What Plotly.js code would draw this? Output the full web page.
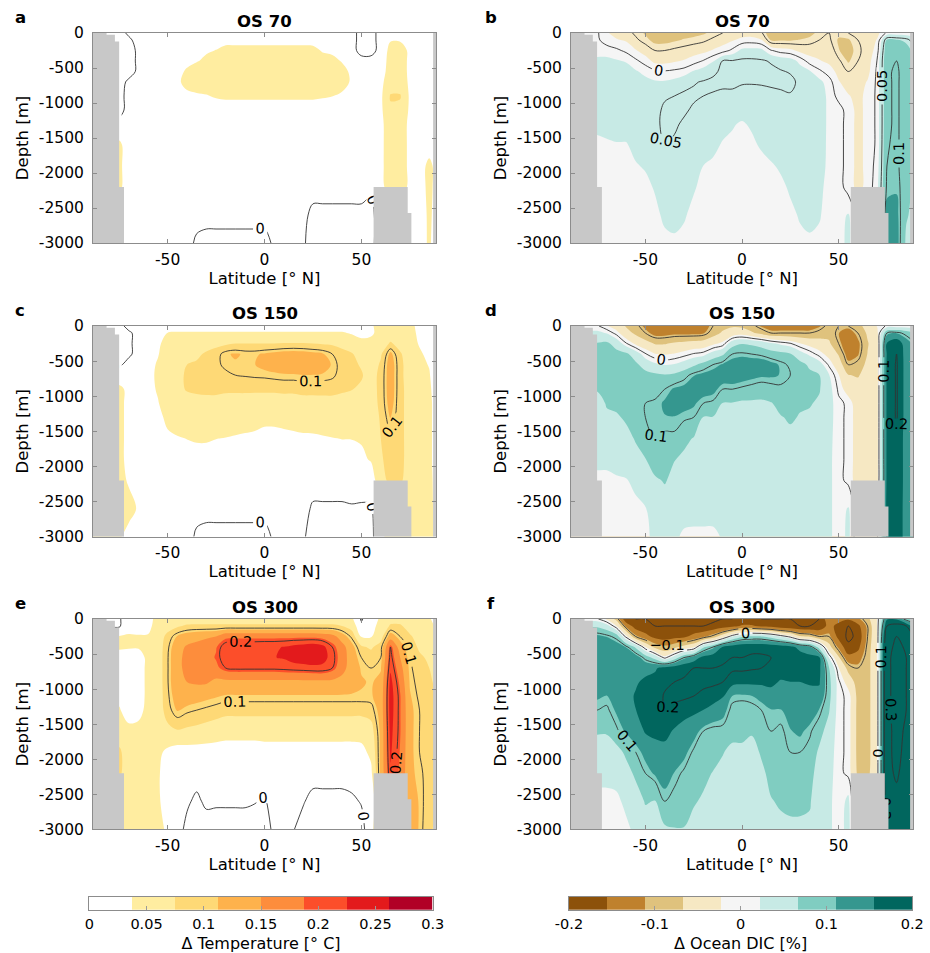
<!DOCTYPE html>
<html><head><meta charset="utf-8">
<script src="https://cdn.plot.ly/plotly-3.0.1.min.js"></script>
<style>html,body{margin:0;padding:0;background:#fff}</style>
</head><body>
<div id="chart" style="width:930px;height:953px"></div>
<script>
// ---------------- data ----------------
const LAT = [-88.5,-80,-75,-70,-65,-60,-55,-50,-45,-40,-35,-30,-25,-20,-15,-10,-5,0,5,10,15,20,25,30,35,40,45,50,55,60,65,70,75,80,85,88.5];
const DEPTH = [0,-100,-250,-400,-550,-700,-900,-1100,-1300,-1600,-1900,-2200,-2600,-3000];

// each inner array = one latitude column, values listed from surface to 3000 m
const tempOS70 = [
[-.01,-.01,-.01,-.01,-.01,-.01,-.01,-.01,.01,.03,.03,.03,.02,.015],
[-.01,-.01,-.01,-.01,-.01,-.01,-.01,-.01,.01,.03,.03,.03,.02,.015],
[-.01,-.01,-.01,-.01,-.01,-.01,-.01,-.01,.01,.045,.045,.045,.02,.015],
[.005,-.005,-.01,-.01,-.01,.005,.01,.01,.02,.02,.02,.02,.02,.015],
[.02,.01,.005,.005,.005,.015,.02,.02,.02,.02,.02,.02,.02,.015],
[.02,.02,.02,.02,.02,.02,.02,.02,.02,.02,.02,.02,.02,.015],
[.02,.025,.025,.025,.025,.025,.025,.02,.02,.02,.02,.02,.02,.015],
[.02,.025,.028,.028,.03,.03,.028,.022,.02,.02,.02,.02,.02,.015],
[.02,.025,.03,.03,.032,.033,.03,.022,.02,.02,.02,.02,.02,.015],
[.02,.025,.03,.033,.04,.045,.032,.024,.02,.02,.02,.02,.015,.01],
[.02,.025,.032,.036,.05,.05,.034,.025,.02,.02,.02,.02,.01,-.005],
[.02,.028,.035,.042,.05,.05,.036,.025,.02,.02,.02,.02,.01,-.01],
[.02,.03,.038,.048,.05,.05,.04,.025,.02,.02,.02,.02,.01,-.01],
[.02,.03,.045,.048,.05,.05,.042,.025,.02,.02,.02,.02,.01,-.01],
[.02,.03,.045,.048,.05,.05,.042,.025,.02,.02,.02,.02,.01,-.01],
[.02,.03,.045,.048,.05,.05,.042,.025,.02,.02,.02,.02,.01,-.01],
[.02,.03,.045,.048,.05,.05,.042,.025,.02,.02,.02,.02,.01,-.01],
[.02,.03,.045,.048,.05,.05,.042,.025,.02,.02,.02,.02,.01,-.01],
[.02,.03,.045,.048,.05,.05,.042,.025,.02,.02,.02,.02,.01,.005],
[.02,.03,.045,.048,.05,.05,.042,.025,.02,.02,.02,.02,.01,.01],
[.02,.03,.045,.048,.05,.05,.042,.025,.02,.02,.02,.02,.01,.008],
[.02,.03,.045,.048,.05,.05,.042,.025,.02,.02,.02,.02,.01,.003],
[.02,.028,.045,.048,.05,.05,.042,.025,.02,.02,.02,.015,-.01,-.01],
[.02,.025,.035,.048,.05,.05,.04,.025,.02,.02,.02,.015,-.01,-.01],
[.02,.025,.03,.048,.05,.05,.038,.025,.02,.02,.02,.015,-.01,-.01],
[.02,.025,.03,.035,.05,.048,.033,.025,.02,.02,.02,.015,-.01,-.01],
[.01,.01,.01,.025,.03,.034,.028,.022,.02,.02,.02,.015,-.01,-.01],
[-.01,-.01,-.01,.01,.02,.02,.02,.02,.02,.02,.02,.015,-.01,-.01],
[-.01,-.01,-.01,.01,.02,.02,.02,.02,.02,.02,.02,.005,-.01,-.01],
[.01,.01,.01,.02,.025,.03,.03,.03,.03,.032,.032,.03,.02,.02],
[.02,.035,.05,.05,.05,.055,.078,.07,.055,.05,.05,.05,.02,.02],
[.02,.035,.05,.05,.05,.055,.078,.065,.05,.05,.05,.05,.02,.02],
[.02,.02,.032,.032,.032,.032,.032,.032,.032,.032,.032,.032,.02,.02],
[.02,.02,.02,.02,.02,.02,.02,.02,.02,.02,.025,.025,.025,.03],
[.02,.02,.02,.02,.02,.02,.02,.02,.02,.025,.045,.045,.042,.04],
[.02,.02,.02,.02,.02,.02,.02,.02,.02,.02,.03,.03,.03,.03]
];

const tempOS150 = [
[-.01,-.01,-.01,-.01,-.005,.02,.045,.045,.045,.045,.045,.045,.045,.04],
[-.01,-.01,-.01,-.01,-.005,.02,.045,.045,.045,.045,.045,.045,.045,.04],
[-.01,-.01,-.01,-.01,-.005,.02,.045,.045,.045,.045,.045,.045,.045,.04],
[.01,-.005,-.005,-.005,.01,.02,.03,.03,.03,.03,.03,.035,.045,.03],
[.02,.01,.01,.01,.02,.025,.025,.025,.025,.025,.025,.025,.035,.02],
[.02,.025,.025,.03,.03,.03,.03,.03,.028,.025,.02,.02,.02,.02],
[.02,.03,.034,.036,.04,.042,.04,.036,.032,.028,.02,.02,.02,.02],
[.025,.038,.045,.05,.055,.055,.055,.05,.042,.034,.025,.02,.02,.02],
[.025,.04,.05,.06,.065,.065,.065,.055,.048,.036,.025,.02,.02,.02],
[.025,.04,.055,.065,.075,.08,.078,.06,.05,.038,.028,.02,.015,.012],
[.025,.04,.055,.068,.08,.085,.08,.065,.05,.04,.028,.02,.01,-.005],
[.025,.04,.06,.08,.085,.09,.082,.065,.05,.04,.028,.02,.01,-.01],
[.025,.04,.065,.09,.095,.09,.082,.065,.05,.038,.025,.02,.01,-.01],
[.025,.04,.07,.11,.105,.095,.08,.063,.048,.037,.025,.02,.01,-.01],
[.025,.04,.075,.115,.11,.1,.08,.062,.046,.036,.025,.02,.01,-.01],
[.025,.04,.075,.11,.11,.102,.08,.062,.045,.035,.025,.02,.01,-.01],
[.025,.04,.075,.11,.112,.104,.08,.06,.044,.034,.024,.02,.01,-.01],
[.025,.04,.075,.115,.12,.105,.08,.06,.042,.032,.024,.02,.01,-.01],
[.025,.04,.075,.12,.125,.108,.08,.06,.042,.032,.024,.02,.012,.005],
[.025,.04,.077,.125,.13,.11,.082,.06,.043,.033,.024,.02,.015,.01],
[.025,.04,.077,.128,.135,.11,.082,.06,.044,.034,.024,.02,.015,.01],
[.025,.04,.077,.125,.135,.112,.085,.062,.045,.035,.025,.02,.012,.003],
[.025,.04,.075,.12,.13,.112,.085,.062,.046,.035,.025,.015,-.005,-.01],
[.025,.04,.072,.115,.125,.11,.085,.063,.047,.036,.026,.015,-.005,-.01],
[.025,.04,.07,.1,.11,.105,.085,.063,.048,.037,.027,.015,-.005,-.01],
[.025,.04,.065,.085,.09,.09,.08,.062,.048,.038,.028,.015,-.005,-.01],
[.03,.035,.055,.078,.082,.082,.076,.06,.048,.038,.03,.015,-.003,-.01],
[.025,.03,.045,.06,.072,.078,.07,.058,.048,.04,.032,.018,-.005,-.01],
[.035,.034,.045,.05,.055,.06,.06,.055,.05,.045,.04,.02,-.005,-.01],
[.045,.045,.05,.07,.08,.085,.085,.085,.08,.075,.07,.06,.03,.03],
[.05,.05,.08,.12,.13,.13,.13,.125,.115,.095,.09,.085,.05,.05],
[.05,.05,.06,.08,.085,.085,.085,.085,.085,.085,.085,.08,.05,.05],
[.045,.045,.045,.05,.055,.055,.06,.06,.06,.06,.06,.06,.06,.06],
[.03,.033,.036,.04,.045,.05,.05,.05,.05,.05,.05,.055,.06,.065],
[.02,.025,.03,.033,.036,.04,.045,.05,.05,.05,.05,.055,.06,.065],
[.02,.02,.02,.02,.02,.02,.02,.02,.02,.02,.02,.02,.02,.02]
];

const tempOS300 = [
[-.005,-.005,.04,.04,.03,.025,.025,.03,.04,.06,.08,.08,.06,.05],
[-.005,-.005,.04,.04,.03,.025,.025,.03,.04,.06,.08,.08,.06,.05],
[-.005,-.005,.04,.04,.03,.025,.025,.03,.04,.06,.08,.08,.06,.05],
[.025,.03,.04,.04,.025,.02,.02,.02,.025,.045,.06,.06,.05,.045],
[.025,.025,.04,.04,.025,.025,.025,.025,.03,.045,.05,.05,.05,.045],
[.03,.03,.04,.045,.045,.045,.045,.045,.045,.045,.045,.045,.045,.045],
[.045,.05,.055,.055,.055,.055,.055,.055,.055,.055,.045,.04,.04,.042],
[.045,.06,.085,.095,.098,.098,.098,.095,.09,.065,.03,.028,.03,.035],
[.05,.07,.115,.135,.14,.14,.14,.13,.115,.072,.02,.012,.01,.008],
[.055,.08,.13,.155,.16,.16,.15,.13,.105,.068,.022,.01,.003,-.005],
[.06,.08,.14,.16,.165,.165,.155,.125,.1,.065,.022,.008,-.004,-.01],
[.06,.08,.145,.17,.175,.17,.155,.12,.095,.06,.022,.012,.004,-.01],
[.06,.08,.15,.185,.19,.18,.14,.115,.09,.055,.022,.012,.003,-.01],
[.06,.08,.18,.215,.215,.2,.14,.11,.085,.05,.022,.012,.003,-.01],
[.06,.08,.18,.22,.222,.205,.14,.11,.085,.05,.022,.012,.003,-.01],
[.06,.08,.18,.22,.222,.205,.14,.11,.085,.05,.022,.012,.003,-.01],
[.06,.08,.18,.22,.222,.205,.14,.11,.085,.05,.022,.012,.001,-.01],
[.06,.08,.18,.222,.224,.205,.14,.11,.085,.05,.025,.01,-.002,-.01],
[.06,.08,.18,.222,.224,.205,.14,.11,.085,.05,.025,.012,.008,.005],
[.06,.08,.18,.226,.228,.207,.14,.11,.085,.05,.025,.012,.01,.006],
[.06,.08,.18,.235,.24,.21,.14,.11,.085,.05,.025,.012,.006,.001],
[.06,.08,.18,.24,.245,.212,.14,.11,.085,.05,.025,.012,.002,-.01],
[.06,.08,.18,.245,.25,.215,.14,.11,.085,.05,.025,.01,-.008,-.01],
[.06,.08,.175,.235,.24,.215,.14,.11,.085,.05,.025,.01,-.008,-.01],
[.06,.08,.165,.2,.21,.2,.14,.11,.085,.05,.025,.01,-.008,-.01],
[.055,.075,.13,.165,.17,.165,.135,.11,.085,.05,.025,.01,-.008,-.01],
[.045,.06,.095,.125,.13,.13,.125,.11,.085,.05,.025,.012,-.005,-.01],
[-.005,.01,.035,.08,.1,.11,.115,.11,.085,.05,.028,.015,.002,-.01],
[.03,.03,.035,.07,.09,.1,.11,.11,.09,.06,.045,.03,.005,.02],
[.04,.045,.06,.09,.1,.11,.12,.125,.125,.12,.12,.12,.1,.1],
[.06,.08,.13,.2,.21,.22,.235,.24,.24,.235,.23,.22,.2,.2],
[.06,.08,.1,.13,.15,.165,.18,.19,.19,.19,.185,.18,.16,.15],
[.05,.06,.08,.09,.1,.105,.11,.115,.12,.12,.12,.12,.13,.13],
[.045,.05,.06,.07,.08,.085,.09,.095,.1,.1,.1,.105,.11,.11],
[.04,.045,.055,.065,.07,.075,.08,.085,.09,.09,.09,.09,.085,.08],
[.03,.035,.045,.055,.06,.065,.07,.075,.08,.08,.08,.08,.075,.07]
];

const dicOS70 = [
[.004,.004,.01,.03,.035,.035,.035,.035,.03,.015,.005,.004,.004,.004],
[.004,.004,.01,.03,.035,.035,.035,.035,.03,.015,.005,.004,.004,.004],
[.004,.004,.01,.03,.035,.035,.035,.035,.03,.015,.005,.004,.004,.004],
[-.02,-.01,.01,.03,.035,.038,.038,.038,.032,.018,.005,.004,.004,.004],
[-.03,-.02,.005,.025,.035,.04,.04,.04,.035,.02,.008,.004,.004,.004],
[-.04,-.025,-.005,.02,.035,.04,.04,.04,.036,.02,.01,.004,.004,.004],
[-.055,-.045,-.02,.005,.025,.035,.04,.04,.038,.03,.02,.005,.004,.004],
[-.07,-.06,-.035,-.01,.015,.03,.04,.04,.04,.035,.025,.015,.005,.004],
[-.085,-.075,-.05,-.03,.005,.025,.04,.045,.045,.04,.035,.025,.015,.005],
[-.085,-.075,-.05,-.03,.002,.025,.048,.053,.055,.05,.04,.035,.028,.015],
[-.08,-.07,-.045,-.025,.005,.03,.05,.055,.055,.045,.04,.035,.03,.018],
[-.075,-.065,-.04,-.02,.01,.04,.055,.055,.045,.04,.035,.03,.025,.015],
[-.075,-.06,-.035,-.01,.025,.048,.055,.045,.04,.035,.03,.025,.015,.01],
[-.07,-.055,-.03,.002,.035,.052,.05,.042,.038,.03,.022,.015,.01,.008],
[-.06,-.045,-.02,.02,.045,.055,.048,.04,.035,.028,.018,.01,.008,.005],
[-.05,-.035,-.01,.052,.055,.055,.045,.04,.03,.02,.012,.008,.005,.005],
[-.04,-.025,.005,.052,.056,.055,.045,.038,.024,.018,.01,.008,.005,.005],
[-.035,-.015,.03,.055,.057,.052,.042,.03,.02,.015,.01,.008,.005,.005],
[-.035,-.012,.032,.055,.057,.052,.04,.03,.025,.018,.01,.008,.005,.005],
[-.045,-.02,.03,.053,.057,.053,.04,.035,.03,.025,.015,.01,.005,.005],
[-.09,-.07,.002,.048,.055,.055,.042,.038,.035,.03,.02,.012,.008,.005],
[-.09,-.07,-.01,.04,.052,.056,.045,.04,.038,.032,.025,.018,.01,.005],
[-.09,-.07,-.015,.035,.048,.056,.048,.042,.04,.035,.03,.025,.018,.01],
[-.085,-.065,-.03,.015,.035,.045,.045,.043,.042,.038,.035,.03,.024,.018],
[-.075,-.06,-.035,-.01,.025,.038,.042,.042,.042,.04,.036,.032,.026,.02],
[-.06,-.05,-.035,-.02,.005,.03,.038,.04,.04,.038,.035,.03,.025,.015],
[-.05,-.045,-.03,-.028,-.01,.01,.015,.015,.015,.015,.015,.012,.01,.005],
[-.06,-.07,-.065,-.045,-.03,-.02,-.008,.01,.01,.01,.01,.01,.01,.01],
[-.05,-.07,-.08,-.07,-.05,-.035,-.02,-.01,-.01,-.01,-.01,-.01,.025,.03],
[-.045,-.05,-.055,-.05,-.045,-.035,-.03,-.03,-.03,-.03,-.03,-.03,-.01,-.01],
[-.04,-.04,-.04,-.035,-.03,-.02,-.015,-.015,-.015,-.015,-.015,-.015,-.005,-.005],
[-.03,-.02,-.01,.002,.005,.005,.005,.005,.005,.005,.01,.015,.02,.02],
[.005,.07,.09,.095,.095,.095,.095,.095,.095,.098,.1,.105,.12,.125],
[.005,.07,.09,.1,.105,.105,.105,.105,.105,.105,.105,.108,.12,.125],
[.005,.06,.08,.085,.085,.085,.085,.085,.085,.085,.085,.085,.07,.06],
[.005,.04,.06,.06,.06,.06,.06,.06,.06,.06,.06,.06,.06,.06]
];

const dicOS150 = [
[.005,.03,.07,.08,.085,.085,.07,.05,.045,.04,.03,.015,.01,.01],
[.005,.03,.07,.08,.085,.085,.07,.05,.045,.04,.03,.015,.01,.01],
[.005,.03,.07,.08,.085,.085,.07,.05,.045,.04,.03,.015,.01,.01],
[-.02,.02,.075,.085,.085,.085,.08,.07,.06,.045,.03,.015,.01,.01],
[-.04,-.01,.05,.08,.085,.085,.085,.075,.062,.05,.035,.018,.01,.01],
[-.07,-.05,.003,.075,.085,.09,.09,.088,.072,.055,.04,.02,.015,.01],
[-.09,-.075,-.03,.045,.075,.09,.095,.095,.09,.07,.055,.03,.015,.015],
[-.12,-.1,-.05,.003,.05,.08,.095,.1,.1,.09,.065,.055,.02,.02],
[-.14,-.125,-.07,-.02,.03,.075,.095,.102,.104,.1,.09,.06,.04,.025],
[-.14,-.125,-.07,-.025,.02,.07,.1,.115,.11,.095,.09,.07,.045,.03],
[-.14,-.12,-.06,-.02,.025,.075,.115,.125,.11,.095,.068,.055,.04,.03],
[-.14,-.12,-.055,-.01,.04,.09,.12,.12,.105,.075,.06,.05,.04,.015],
[-.14,-.12,-.05,.003,.06,.11,.125,.115,.1,.065,.055,.045,.035,.015],
[-.13,-.115,-.045,.01,.08,.12,.125,.1,.065,.06,.05,.045,.035,.015],
[-.1,-.085,-.03,.04,.1,.125,.12,.095,.065,.055,.05,.045,.035,.015],
[-.08,-.06,-.015,.06,.115,.13,.1,.065,.055,.05,.048,.045,.035,.025],
[-.07,-.05,.05,.1,.125,.13,.1,.065,.055,.05,.048,.045,.04,.035],
[-.075,-.04,.065,.105,.13,.125,.095,.06,.055,.05,.048,.045,.04,.035],
[-.09,-.06,.06,.1,.13,.12,.09,.06,.055,.05,.048,.045,.04,.035],
[-.115,-.08,.05,.095,.13,.115,.085,.06,.055,.05,.048,.045,.04,.035],
[-.13,-.1,.03,.085,.12,.115,.09,.065,.058,.052,.048,.045,.04,.035],
[-.13,-.1,.015,.08,.108,.11,.095,.075,.065,.055,.05,.045,.04,.035],
[-.13,-.1,.003,.07,.095,.1,.09,.08,.07,.06,.05,.045,.04,.035],
[-.13,-.1,-.02,.04,.08,.085,.08,.07,.065,.055,.05,.045,.04,.035],
[-.13,-.1,-.035,.015,.06,.075,.075,.07,.06,.055,.05,.045,.04,.035],
[-.115,-.09,-.045,-.01,.04,.068,.07,.06,.05,.045,.04,.035,.03,.03],
[-.09,-.08,-.06,-.035,-.005,.025,.035,.035,.035,.032,.03,.03,.03,.03],
[-.1,-.11,-.1,-.07,-.045,-.02,-.005,.006,.006,.006,.006,.006,.006,.006],
[-.1,-.13,-.14,-.13,-.1,-.065,-.04,-.005,-.005,-.005,-.005,-.005,.025,.03],
[-.08,-.1,-.12,-.115,-.09,-.07,-.05,-.045,-.04,-.04,-.04,-.04,-.02,-.02],
[-.05,-.06,-.07,-.065,-.055,-.05,-.045,-.045,-.045,-.045,-.045,-.045,-.02,-.02],
[-.02,-.03,-.035,-.035,-.035,-.035,-.035,-.035,-.035,-.035,-.035,-.035,-.005,-.005],
[.005,.1,.16,.16,.165,.165,.165,.165,.165,.165,.165,.165,.17,.17],
[.005,.11,.19,.2,.205,.205,.205,.205,.205,.195,.195,.195,.19,.19],
[.005,.09,.13,.135,.135,.135,.135,.135,.135,.135,.135,.135,.135,.135],
[.005,.07,.11,.12,.12,.12,.12,.12,.12,.12,.12,.12,.12,.12]
];

const dicOS300 = [
[.005,.06,.12,.13,.13,.13,.125,.115,.1,.07,.05,.03,.015,.01],
[.005,.06,.12,.13,.13,.13,.125,.115,.1,.07,.05,.03,.015,.01],
[.005,.06,.12,.13,.13,.13,.125,.115,.1,.07,.05,.03,.015,.01],
[-.03,.04,.11,.13,.13,.13,.13,.11,.095,.07,.05,.03,.015,.01],
[-.08,-.02,.09,.13,.135,.135,.13,.125,.115,.095,.05,.035,.015,.01],
[-.19,-.12,-.01,.11,.135,.14,.145,.14,.13,.115,.075,.05,.03,.015],
[-.2,-.18,-.1,.06,.13,.14,.15,.16,.155,.13,.1,.075,.045,.03],
[-.2,-.19,-.14,-.02,.09,.14,.165,.17,.17,.16,.12,.1,.07,.045],
[-.2,-.2,-.17,-.08,.05,.15,.17,.175,.175,.165,.14,.115,.065,.05],
[-.21,-.2,-.18,-.1,-.01,.17,.19,.205,.202,.17,.14,.125,.1,.06],
[-.21,-.2,-.17,-.08,.04,.18,.2,.21,.19,.15,.13,.11,.09,.065],
[-.21,-.2,-.165,-.05,.1,.19,.205,.21,.17,.14,.12,.095,.085,.065],
[-.21,-.2,-.14,-.03,.13,.2,.21,.2,.165,.125,.095,.085,.07,.055],
[-.21,-.2,-.12,.06,.17,.2,.21,.19,.155,.1,.09,.075,.062,.05],
[-.21,-.19,-.09,.1,.18,.2,.21,.175,.14,.09,.08,.065,.06,.05],
[-.2,-.18,-.04,.16,.19,.205,.2,.16,.125,.09,.068,.06,.055,.05],
[-.2,-.17,.02,.18,.2,.21,.17,.11,.09,.075,.06,.055,.05,.045],
[-.19,-.15,.06,.19,.2,.21,.165,.105,.09,.075,.06,.05,.045,.04],
[-.19,-.15,.07,.19,.205,.205,.165,.11,.09,.07,.055,.05,.045,.04],
[-.2,-.165,.07,.19,.205,.2,.165,.12,.1,.08,.07,.06,.05,.045],
[-.2,-.17,.05,.185,.2,.195,.17,.13,.11,.1,.085,.075,.065,.055],
[-.2,-.19,.02,.18,.19,.185,.15,.125,.11,.095,.085,.075,.07,.06],
[-.2,-.195,-.01,.17,.185,.18,.155,.13,.12,.11,.1,.085,.072,.062],
[-.2,-.2,-.06,.14,.18,.18,.155,.135,.125,.115,.1,.085,.072,.062],
[-.2,-.2,-.07,.12,.17,.175,.16,.14,.125,.105,.09,.08,.07,.06],
[-.2,-.19,-.1,.05,.16,.165,.16,.14,.11,.08,.06,.05,.045,.04],
[-.12,-.14,-.1,-.05,.02,.07,.08,.08,.07,.05,.04,.035,.03,.03],
[-.14,-.17,-.17,-.12,-.06,-.02,.006,.006,.006,.006,.006,.006,.006,.006],
[-.15,-.2,-.21,-.19,-.14,-.08,-.04,-.005,-.005,-.005,-.005,-.005,.03,.035],
[-.12,-.17,-.19,-.17,-.13,-.1,-.085,-.08,-.08,-.08,-.08,-.075,-.05,-.05],
[-.08,-.1,-.1,-.09,-.085,-.085,-.085,-.085,-.085,-.085,-.085,-.08,-.05,-.05],
[-.02,-.02,-.02,-.02,-.02,-.02,-.02,-.02,-.02,-.02,-.02,-.02,-.02,-.02],
[.15,.2,.25,.27,.28,.28,.28,.28,.28,.28,.28,.28,.25,.25],
[.15,.22,.3,.32,.33,.33,.33,.33,.33,.32,.32,.31,.28,.27],
[.08,.2,.27,.29,.3,.3,.3,.3,.3,.29,.28,.27,.25,.24],
[.05,.15,.2,.22,.22,.22,.22,.22,.22,.22,.22,.22,.2,.2]
];

// land masks (latitude, depth)
const southLandLat = [-88.5,-81.5,-81.5,-77.2,-77.2,-75,-75,-72.5,-72.5,-88.5];
const southLandDepth = [0,0,-25,-25,-120,-120,-2200,-2200,-3000,-3000];
const northLandLat = [56.3,73.9,73.9,75.8,75.8,56.3];
const northLandDepth = [-2200,-2200,-2570,-2570,-3000,-3000];
const poleLandLat = [87,88.5,88.5,87];
const poleLandDepth = [0,0,-3000,-3000];

// ticks / colour scales
const xTicks = [-50,0,50];
const xTickText = ['-50','0','50'];
const yTicks = [0,-500,-1000,-1500,-2000,-2500,-3000];
const yTickText = ['0','-500','-1000','-1500','-2000','-2500','-3000'];
const tempRange = [0,0.3];
const dicRange = [-0.2,0.2];
const tempColors = ['#FFFFFF','#FFEDA0','#FED976','#FEB24C','#FD8D3C','#FC4E2A','#E31A1C','#B10026'];
const dicColors = ['#8C510A','#BF812D','#DFC27D','#F6E8C3','#F5F5F5','#C7EAE5','#80CDC1','#35978F','#01665E'];
const tempCbTicks = [0,0.05,0.1,0.15,0.2,0.25,0.3];
const tempCbText = ['0','0.05','0.1','0.15','0.2','0.25','0.3'];
const dicCbTicks = [-0.2,-0.1,0,0.1,0.2];
const dicCbText = ['-0.2','-0.1','0','0.1','0.2'];

// ---------------- drawing ----------------
const FONT = 'DejaVu Sans';
const W = 930, H = 953;
const colPx = [[93,436],[571,913]];
const rowPx = [[33,243],[326,536.7],[619,829.3]];

const panels = [
  {z: tempOS70, kind:'temp', title:'OS 70', letter:'a', row:0, col:0, lines:[0,0.001,0.1]},
  {z: dicOS70, kind:'dic', title:'OS 70', letter:'b', row:0, col:1, lines:[-0.05,0.1,0.05]},
  {z: tempOS150, kind:'temp', title:'OS 150', letter:'c', row:1, col:0, lines:[0,0.1,0.1]},
  {z: dicOS150, kind:'dic', title:'OS 150', letter:'d', row:1, col:1, lines:[-0.1,0.2,0.1]},
  {z: tempOS300, kind:'temp', title:'OS 300', letter:'e', row:2, col:0, lines:[0,0.2,0.1]},
  {z: dicOS300, kind:'dic', title:'OS 300', letter:'f', row:2, col:1, lines:[-0.2,0.3,0.1]}
];

function stepScale(colors){ const n = colors.length; return colors.map((c,k)=>[k/(n-1), c]); }

const data = [];
const layout = {
  width: W, height: H, margin:{l:0,r:0,t:0,b:0},
  paper_bgcolor:'#fff', plot_bgcolor:'#fff', showlegend:false,
  font:{family:FONT, color:'#000'}, annotations:[]
};

panels.forEach((p,i)=>{
  const xa = 'x'+(i+1), ya = 'y'+(i+1);
  const colors = p.kind==='temp' ? tempColors : dicColors;
  const rng = p.kind==='temp' ? tempRange : dicRange;
  const n = colors.length, size = (rng[1]-rng[0])/n;
  data.push({type:'contour', x:LAT, y:DEPTH, z:p.z, transpose:true, xaxis:xa, yaxis:ya,
    autocontour:false, contours:{coloring:'fill', showlines:false, start:rng[0]+size, end:rng[1]-size, size:size},
    colorscale:stepScale(colors), showscale:false, line:{width:0, smoothing:1}, hoverinfo:'skip'});
  data.push({type:'contour', x:LAT, y:DEPTH, z:p.z, transpose:true, xaxis:xa, yaxis:ya,
    autocontour:false, contours:{coloring:'none', start:p.lines[0], end:p.lines[1], size:p.lines[2],
      showlabels:true, labelfont:{family:FONT, size:14.5, color:'#000'}},
    line:{color:'#333', width:0.9, smoothing:1}, showscale:false, hoverinfo:'skip'});
  [[southLandLat,southLandDepth],[northLandLat,northLandDepth],[poleLandLat,poleLandDepth]].forEach(l=>{
    data.push({type:'scatter', mode:'lines', x:l[0], y:l[1], fill:'toself', fillcolor:'#C8C8C8',
      line:{width:0, color:'#C8C8C8'}, xaxis:xa, yaxis:ya, hoverinfo:'skip'});
  });
  const cx = colPx[p.col], ry = rowPx[p.row];
  const axBase = {showgrid:false, zeroline:false, showline:true, mirror:'ticks', linecolor:'#8c8c8c', linewidth:1,
    ticks:'inside', ticklen:4, tickcolor:'#8c8c8c', tickfont:{family:FONT, size:15.5, color:'#000'}};
  layout['xaxis'+(i+1)] = Object.assign({}, axBase, {domain:[cx[0]/W, cx[1]/W], anchor:ya, range:[-88.5,88.5],
    tickmode:'array', tickvals:xTicks, ticktext:xTickText, ticklabelstandoff:2,
    title:{text:'Latitude [° N]', font:{family:FONT, size:16.5, color:'#000'}, standoff:4}});
  layout['yaxis'+(i+1)] = Object.assign({}, axBase, {domain:[1-ry[1]/H, 1-ry[0]/H], anchor:xa, range:[-3000,0],
    tickmode:'array', tickvals:yTicks, ticktext:yTickText, ticklabelstandoff:5,
    title:{text:'Depth [m]', font:{family:FONT, size:16.5, color:'#000'}, standoff:6}});
  layout.annotations.push({xref:'paper', yref:'paper', x:(cx[0]+cx[1])/2/W, y:1-(ry[0]-12)/H,
    text:'<b>'+p.title+'</b>', showarrow:false, xanchor:'center', yanchor:'middle', font:{family:FONT, size:16.5, color:'#000'}});
  layout.annotations.push({xref:'paper', yref:'paper', x:(p.col===0?20:491)/W, y:1-(ry[0]-16)/H,
    text:'<b>'+p.letter+'</b>', showarrow:false, xanchor:'center', yanchor:'middle', font:{family:FONT, size:16.5, color:'#000'}});
});

// colour bars drawn as heatmaps on their own axes
function bandCenters(rng, n){ const s=(rng[1]-rng[0])/n; const a=[]; for(let k=0;k<n;k++) a.push(rng[0]+s*(k+0.5)); return a; }
const cbs = [
  {colors:tempColors, rng:tempRange, ticks:tempCbTicks, text:tempCbText, title:'Δ Temperature [° C]', px:[89.3,432.7]},
  {colors:dicColors, rng:dicRange, ticks:dicCbTicks, text:dicCbText, title:'Δ Ocean DIC [%]', px:[569,912.3]}
];
cbs.forEach((c,j)=>{
  const k = 7+j, xa='x'+k, ya='y'+k;
  const cen = bandCenters(c.rng, c.colors.length);
  data.push({type:'heatmap', x:cen, y:[0], z:[cen], xaxis:xa, yaxis:ya, colorscale:stepScale(c.colors),
    zmin:cen[0], zmax:cen[cen.length-1], showscale:false, hoverinfo:'skip'});
  layout['xaxis'+k] = {domain:[c.px[0]/W, c.px[1]/W], anchor:ya, range:c.rng, showgrid:false, zeroline:false,
    showline:true, mirror:true, linecolor:'#8c8c8c', ticks:'inside', ticklen:4, tickcolor:'#9a9a9a',
    tickmode:'array', tickvals:c.ticks, ticktext:c.text, ticklabelstandoff:1,
    tickfont:{family:FONT, size:14.5, color:'#000'},
    title:{text:c.title, font:{family:FONT, size:16, color:'#000'}, standoff:7}};
  layout['yaxis'+k] = {domain:[1-910/H, 1-896.7/H], anchor:xa, range:[-0.5,0.5], showgrid:false, zeroline:false,
    showline:true, mirror:true, linecolor:'#8c8c8c', showticklabels:false, ticks:''};
});

Plotly.newPlot('chart', data, layout, {displayModeBar:false, staticPlot:true});
</script>
</body></html>
